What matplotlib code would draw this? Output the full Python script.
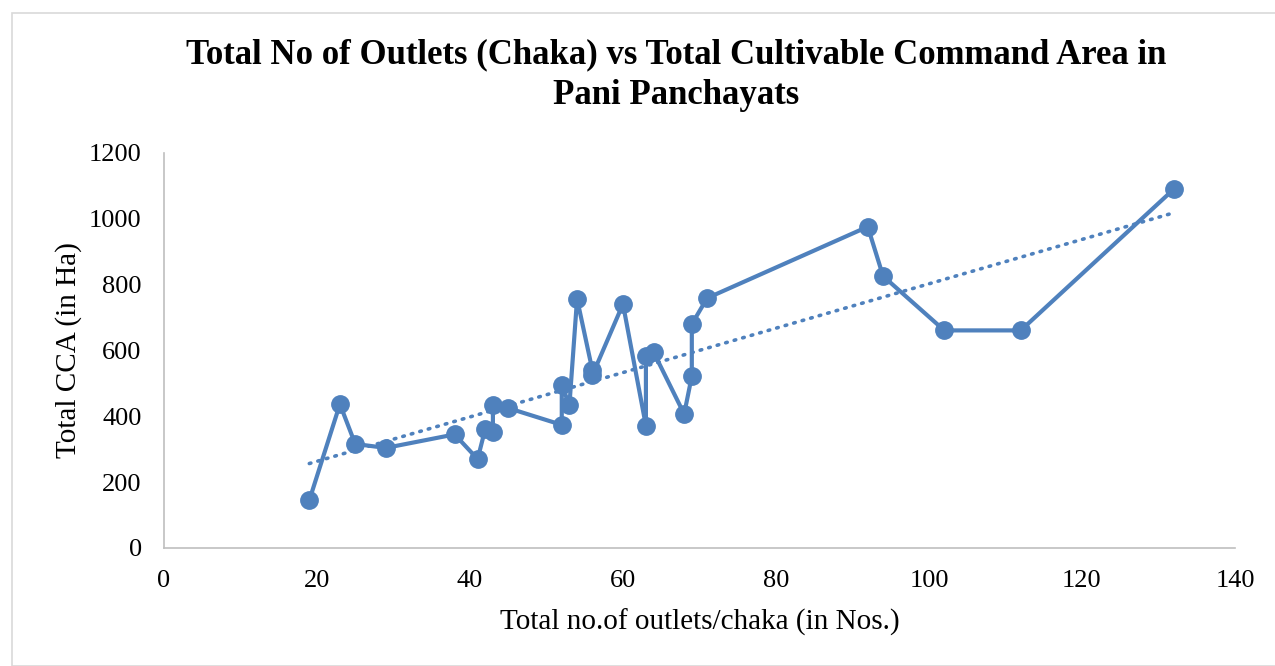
import numpy as np
import matplotlib
matplotlib.use("Agg")
import matplotlib.pyplot as plt
from matplotlib.patches import Rectangle

# outlets (chaka) per pani panchayat and total CCA (Ha), in plotted order
outlets = [19, 23, 25, 29, 38, 41, 42, 43, 43, 45, 52, 52, 53, 54, 56, 56, 60,
           63, 63, 64, 68, 69, 69, 71, 92, 94, 102, 112, 132]
cca = [145, 437, 316, 304, 345, 270, 362, 352, 434, 425, 374, 495, 434, 757, 540, 525, 741,
       371, 583, 595, 407, 522, 680, 759, 976, 826, 661, 661, 1090]

xticks = [0, 20, 40, 60, 80, 100, 120, 140]
yticks = [0, 200, 400, 600, 800, 1000, 1200]

title = "Total No of Outlets (Chaka) vs Total Cultivable Command Area in\nPani Panchayats"
xlabel = "Total no.of outlets/chaka (in Nos.)"
ylabel = "Total CCA (in Ha)"

blue = "#4F81BD"
plt.rcParams["font.family"] = ["Liberation Serif", "DejaVu Serif"]

fig = plt.figure(figsize=(12.75, 6.66), dpi=100)
fig.patches.append(Rectangle((12 / 1275, 0), 1.2, 1 - 13 / 666, transform=fig.transFigure,
                             fill=False, edgecolor="#D9D9D9", lw=1.2))
ax = fig.add_axes([0.1286, 0.1772, 0.84, 0.5931])

x = np.array(outlets)
y = np.array(cca)
ax.plot(x, y, "-o", color=blue, lw=3.0, ms=12.5, zorder=3)

# linear trendline
k, b = np.polyfit(x, y, 1)
tx = np.array([x.min(), x.max()])
ax.plot(tx, k * tx + b, color=blue, lw=2.6, linestyle=(0, (0.45, 2.0)),
        dash_capstyle="round", zorder=2)

ax.set_xlim(0, 140)
ax.set_ylim(0, 1200)
ax.set_xticks(xticks)
ax.set_yticks(yticks)
ax.tick_params(length=0, labelsize=19, pad=16)
for s in ["top", "right"]:
    ax.spines[s].set_visible(False)
for s in ["left", "bottom"]:
    ax.spines[s].set_color("#BFBFBF")
    ax.spines[s].set_linewidth(1.2)

ax.set_xlabel(xlabel, fontsize=21, labelpad=12)
ax.set_ylabel(ylabel, fontsize=21, labelpad=5)
fig.text(0.530, 0.887, title, ha="center", va="center", fontsize=25, fontweight="bold",
         linespacing=1.3)

fig.savefig("out.png", dpi=100)
